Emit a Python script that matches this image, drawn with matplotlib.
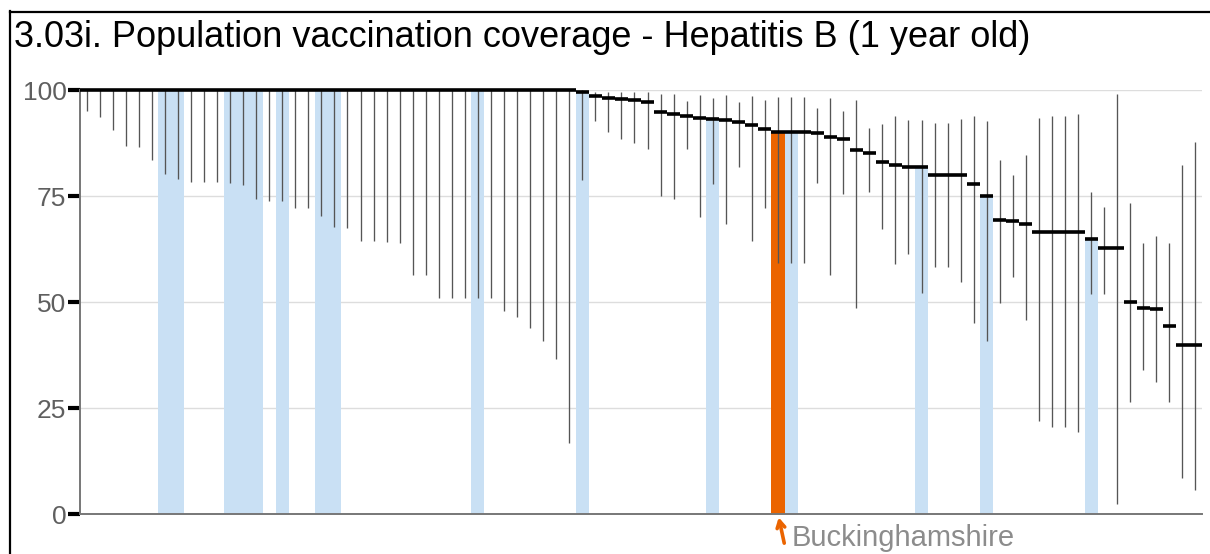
import numpy as np
import matplotlib.pyplot as plt
from matplotlib.lines import Line2D

plt.rcParams['font.family'] = ['Liberation Sans', 'DejaVu Sans']

title = "3.03i. Population vaccination coverage - Hepatitis B (1 year old)"
area_name = "Buckinghamshire"

# value, lower and upper confidence limits per area (sorted by value)
values = [100, 100, 100, 100, 100, 100, 100, 100, 100, 100,
          100, 100, 100, 100, 100, 100, 100, 100, 100, 100,
          100, 100, 100, 100, 100, 100, 100, 100, 100, 100,
          100, 100, 100, 100, 100, 100, 100, 100, 99.5, 98.6,
          98.2, 97.9, 97.6, 97.2, 94.8, 94.4, 93.9, 93.3, 93.2, 92.9,
          92.4, 91.7, 90.9, 90.1, 90.1, 90.1, 89.8, 88.8, 88.4, 85.8,
          85.1, 83.0, 82.4, 81.8, 81.8, 80.0, 80.0, 80.0, 77.8, 75.0,
          69.3, 69.1, 68.4, 66.6, 66.6, 66.6, 66.6, 64.9, 62.7, 62.7,
          49.9, 48.7, 48.3, 44.4, 39.9, 39.9]
lower = [95.1, 93.6, 90.6, 86.9, 86.6, 83.6, 80.3, 78.9, 78.4, 78.4,
         78.4, 78.1, 77.7, 74.4, 73.9, 73.9, 72.1, 72.1, 70.4, 67.6,
         67.4, 64.4, 64.4, 64.1, 63.8, 56.4, 56.4, 50.9, 50.9, 50.9,
         50.9, 50.9, 47.9, 46.4, 43.9, 40.8, 36.6, 16.8, 78.8, 92.7,
         90.2, 88.4, 87.4, 86.1, 75.1, 74.2, 86.1, 70.1, 77.8, 68.4,
         81.8, 64.3, 72.1, 59.3, 59.3, 59.3, 78.1, 56.4, 75.4, 48.5,
         75.9, 67.1, 59.0, 61.3, 52.1, 58.3, 58.3, 54.6, 45.1, 40.8,
         49.8, 56.0, 45.8, 22.0, 20.6, 20.6, 19.3, 51.9, 51.9, 2.3,
         26.5, 33.9, 31.2, 26.5, 8.4, 5.7]
upper = [100, 100, 100, 100, 100, 100, 100, 100, 100, 100,
         100, 100, 100, 100, 100, 100, 100, 100, 100, 100,
         100, 100, 100, 100, 100, 100, 100, 100, 100, 100,
         100, 100, 100, 100, 100, 100, 100, 100, 100, 99.6,
         99.6, 99.6, 99.6, 99.6, 99.1, 99.1, 97.4, 98.8, 98.0, 98.8,
         97.1, 98.6, 97.6, 98.4, 98.4, 98.4, 95.7, 98.0, 95.1, 97.6,
         91.1, 91.9, 93.9, 92.9, 92.9, 92.1, 92.1, 93.1, 93.9, 92.8,
         83.6, 80.0, 84.7, 93.3, 93.9, 93.9, 94.3, 76.0, 72.3, 99.1,
         73.3, 63.8, 65.6, 63.8, 82.3, 87.7]

blue_areas = [6, 7, 11, 12, 13, 15, 18, 19, 30, 38, 48, 54, 64, 69, 77]
selected_area = 53
yticks = [0, 25, 50, 75, 100]

x = np.arange(len(values))
values = np.array(values)

fig = plt.figure(figsize=(12.1, 5.54), dpi=100)
ax = fig.add_axes([80/1210, 1 - 514/554, (1202 - 80)/1210, (514 - 90)/554])

ax.bar(x[blue_areas], values[blue_areas], width=1.0, color='#c9e0f4', zorder=1)
ax.bar(selected_area, values[selected_area], width=1.0, color='#eb6400', zorder=1)
ax.vlines(x, lower, upper, colors='#555555', lw=0.95, zorder=2)
ax.hlines(values, x - 0.5, x + 0.5, colors='black', lw=2.6, zorder=3, clip_on=False)

ax.set_xlim(-0.5, len(values) - 0.5)
ax.set_ylim(0, 100)
ax.set_xticks([])
ax.set_yticks(yticks)
ax.yaxis.grid(True, color='#dddddd', lw=1)
ax.set_axisbelow(True)
ax.tick_params(axis='y', length=9, width=3, color='black', labelcolor='#5f5f5f',
               labelsize=19, pad=0.8)
for s in ['top', 'right']:
    ax.spines[s].set_visible(False)
for s in ['left', 'bottom']:
    ax.spines[s].set_color('#777777')
    ax.spines[s].set_linewidth(1.4)

# label under the selected area
ax.annotate('', xy=(selected_area, 0), xytext=(4.5, -21), textcoords='offset points',
            arrowprops=dict(arrowstyle='->,head_length=0.5,head_width=0.28', color='#eb6400',
                            lw=2.6, shrinkA=0, shrinkB=2.5), annotation_clip=False)
ax.annotate(area_name, xy=(selected_area, 0), xytext=(9.5, -17), textcoords='offset points',
            ha='left', va='center', color='#8c8c8c', fontsize=21, annotation_clip=False)

fig.text(14/1210, 1 - 47/554, title, ha='left', va='baseline', fontsize=26, color='black')

# frame lines of the original panel
fig.add_artist(Line2D([10/1210, 10/1210], [0, 1 - 11/554], color='black', lw=1.6,
                      transform=fig.transFigure))
fig.add_artist(Line2D([10/1210, 1], [1 - 12/554, 1 - 12/554], color='black', lw=1.6,
                      transform=fig.transFigure))

plt.savefig('out.png', dpi=100)
